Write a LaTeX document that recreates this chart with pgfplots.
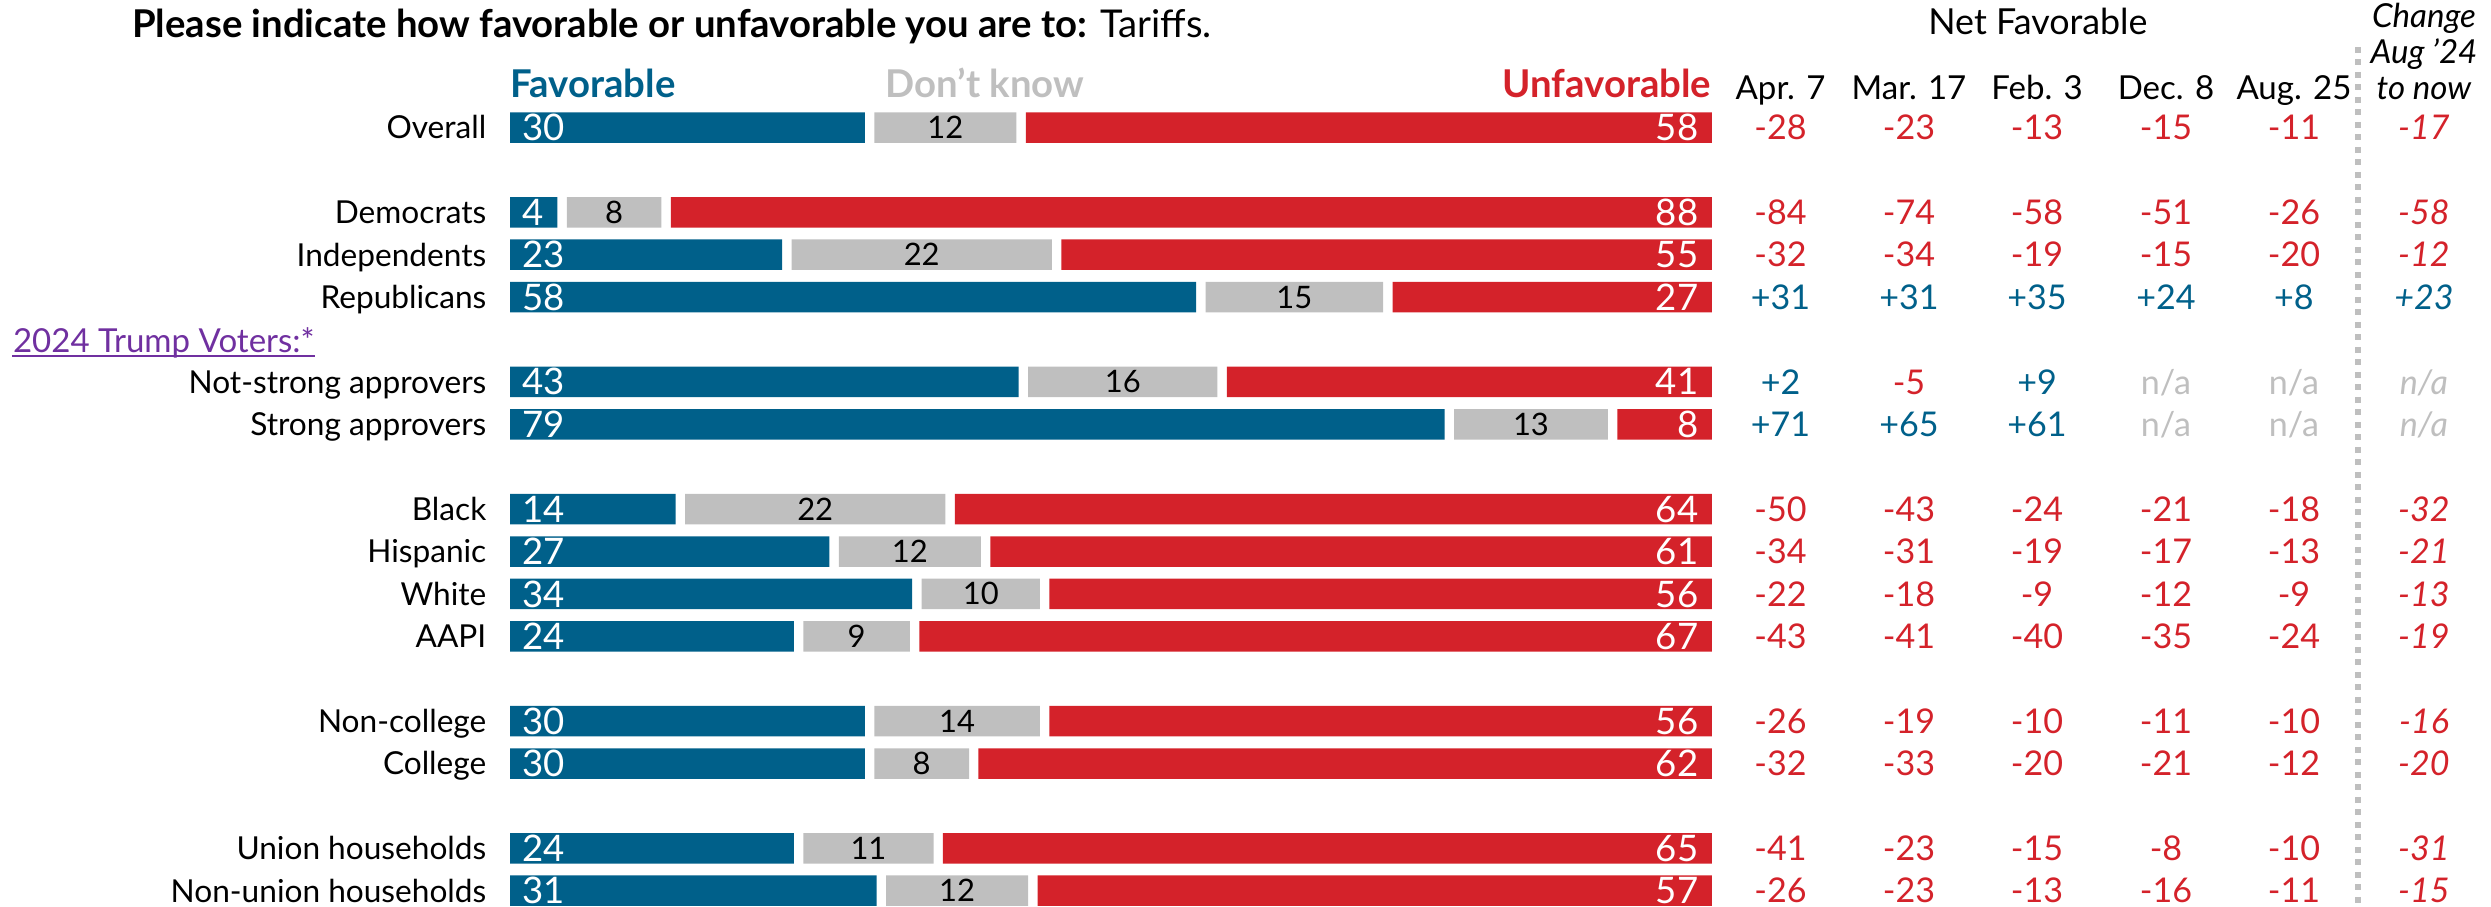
\documentclass[border=0pt]{standalone}
\usepackage{pgfplots}
\pgfplotsset{compat=1.18}
\usepackage{pgfplotstable}
\usepackage{fontspec}
\setmainfont{Lato}
\definecolor{fav}{HTML}{00608A}
\definecolor{dk}{HTML}{BFBFBF}
\definecolor{unf}{HTML}{D4222A}
\definecolor{tv}{HTML}{7030A0}
\newcommand\fs[1]{\fontsize{#1}{#1}\selectfont}
\makeatletter
\def\netfmt{\edef\nf@tmp{\pgfplotspointmeta}\expandafter\nf@a\nf@tmp\relax}
\def\nf@a#1#2\relax{\ifx#1-\textcolor{unf}{-#2}\else\ifx#1+\textcolor{fav}{+#2}\else\textcolor{dk}{#1#2}\fi\fi}
\makeatother

\pgfplotstableread{
row fav dk unf
0 30 12 58
2 4 8 88
3 23 22 55
4 58 15 27
6 43 16 41
7 79 13 8
9 14 22 64
10 27 12 61
11 34 10 56
12 24 9 67
14 30 14 56
15 30 8 62
17 24 11 65
18 31 12 57
}\bars

\pgfplotstableread{
row a m f d g c
0 -28 -23 -13 -15 -11 -17
2 -84 -74 -58 -51 -26 -58
3 -32 -34 -19 -15 -20 -12
4 +31 +31 +35 +24 +8 +23
6 +2 -5 +9 n/a n/a n/a
7 +71 +65 +61 n/a n/a n/a
9 -50 -43 -24 -21 -18 -32
10 -34 -31 -19 -17 -13 -21
11 -22 -18 -9 -12 -9 -13
12 -43 -41 -40 -35 -24 -19
14 -26 -19 -10 -11 -10 -16
15 -32 -33 -20 -21 -12 -20
17 -41 -23 -15 -8 -10 -31
18 -26 -23 -13 -16 -11 -15
}\net

\pgfplotsset{
  base/.style={scale only axis, width=24.91cm, height=9.06cm,
    xmin=-43.111, xmax=167.456, ymin=-3.007, ymax=18.361, y dir=reverse,
    clip=false},
  lbl/.style={draw=none, mark=none, nodes near coords, point meta=explicit symbolic},
  netcol/.style={draw=none, mark=none, nodes near coords=\netfmt, point meta=explicit symbolic,
    every node near coord/.style={anchor=center, inner sep=0pt, font=\fs{9.7}#1, text height=6.95pt, text depth=0pt}},
}

\begin{document}
\begin{tikzpicture}
\begin{axis}[base,
  xbar stacked, bar width=0.305cm,
  axis line style={draw=none}, tick style={draw=none}, xtick=\empty,
  ytick={0,2,3,4,6,7,9,10,11,12,14,15,17,18},
  yticklabels={Overall,Democrats,Independents,Republicans,Not-strong approvers,Strong approvers,Black,Hispanic,White,AAPI,Non-college,College,Union households,Non-union households},
  yticklabel style={anchor=east, inner sep=0pt, xshift=4.87cm, font=\fs{9.0}, text height=6.45pt, text depth=0pt},
]
\addplot[fill=fav, draw=none] table[x=fav, y=row] {\bars};
\addplot[fill=none, draw=none] table[x expr=0.8, y=row] {\bars};
\addplot[fill=dk, draw=none] table[x=dk, y=row] {\bars};
\addplot[fill=none, draw=none] table[x expr=0.8, y=row] {\bars};
\addplot[fill=unf, draw=none] table[x=unf, y=row] {\bars};
\coordinate (bbA) at (rel axis cs:0,0);
\coordinate (bbB) at (rel axis cs:1,1);
\end{axis}

\begin{axis}[base, hide axis]
% bar value labels
\addplot[lbl, every node near coord/.style={anchor=west, inner sep=0pt, text=white, font=\fs{10.4}, text height=7.45pt, text depth=0pt}]
  table[x expr=1.0, y=row, meta=fav] {\bars};
\addplot[lbl, every node near coord/.style={anchor=center, inner sep=0pt, text=black, font=\fs{8.8}, text height=6.3pt, text depth=0pt}]
  table[x expr=\thisrow{fav}+0.8+0.5*\thisrow{dk}, y=row, meta=dk] {\bars};
\addplot[lbl, every node near coord/.style={anchor=east, inner sep=0pt, text=white, font=\fs{10.4}, text height=7.45pt, text depth=0pt}]
  table[x expr=100.5, y=row, meta=unf] {\bars};
% net favorable columns
\addplot[netcol=] table[x expr=107.40, y=row, meta=a] {\net};
\addplot[netcol=] table[x expr=118.26, y=row, meta=m] {\net};
\addplot[netcol=] table[x expr=129.08, y=row, meta=f] {\net};
\addplot[netcol=] table[x expr=139.98, y=row, meta=d] {\net};
\addplot[netcol=] table[x expr=150.80, y=row, meta=g] {\net};
\addplot[netcol=\itshape] table[x expr=161.79, y=row, meta=c] {\net};

% titles and headers
\node[anchor=base west, inner sep=0pt, font=\fs{10.9}] at (axis cs:-32.0,-2.134)
  {\textbf{Please indicate how favorable or unfavorable you are to:} Tariffs.};
\node[anchor=base west, inner sep=0pt, font=\fs{10.9}\bfseries, text=fav] at (axis cs:0,-0.719) {Favorable};
\node[anchor=base west, inner sep=0pt, font=\fs{10.9}\bfseries, text=dk] at (axis cs:31.70,-0.719) {Don’t know};
\node[anchor=base east, inner sep=0pt, font=\fs{10.9}\bfseries, text=unf] at (axis cs:101.6,-0.719) {Unfavorable};
\node[anchor=base, inner sep=0pt, font=\fs{10.2}] at (axis cs:129.16,-2.205) {Net Favorable};
\node[anchor=base, inner sep=0pt, font=\fs{9.4}] at (axis cs:107.40,-0.672) {Apr. 7};
\node[anchor=base, inner sep=0pt, font=\fs{9.4}] at (axis cs:118.26,-0.672) {Mar. 17};
\node[anchor=base, inner sep=0pt, font=\fs{9.4}] at (axis cs:129.08,-0.672) {Feb. 3};
\node[anchor=base, inner sep=0pt, font=\fs{9.4}] at (axis cs:139.98,-0.672) {Dec. 8};
\node[anchor=base, inner sep=0pt, font=\fs{9.4}] at (axis cs:150.80,-0.672) {Aug. 25};
\node[anchor=base, inner sep=0pt, font=\fs{9.4}\itshape] at (axis cs:161.79,-2.347) {Change};
\node[anchor=base, inner sep=0pt, font=\fs{9.4}\itshape] at (axis cs:161.79,-1.521) {Aug ’24};
\node[anchor=base, inner sep=0pt, font=\fs{9.4}\itshape] at (axis cs:161.79,-0.672) {to now};
\node[anchor=base west, inner sep=0pt, font=\fs{9.4}, text=tv] (tvh) at (axis cs:-42.07,5.295) {2024 Trump Voters:*};
\draw[tv, line width=0.02cm] ([yshift=-0.035cm]tvh.base west) -- ([yshift=-0.035cm]tvh.base east);
\draw[dk, line width=0.06cm, dash pattern=on 0.06cm off 0.065cm] (axis cs:156.21,-1.899) -- (axis cs:156.21,18.361);
\end{axis}
\pgfresetboundingbox
\useasboundingbox (bbA) rectangle (bbB);
\end{tikzpicture}
\end{document}
